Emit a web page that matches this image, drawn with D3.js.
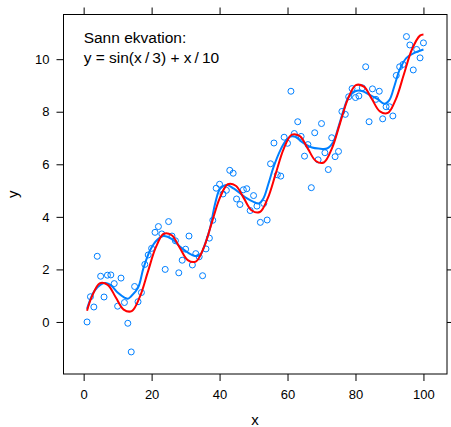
<!DOCTYPE html>
<html>
<head>
<meta charset="utf-8">
<script src="https://cdn.jsdelivr.net/npm/d3@7"></script>
<style>
  body { margin: 0; background: #fff; }
  svg { font-family: "Liberation Sans", Arial, Helvetica, sans-serif; }
</style>
</head>
<body>
<svg id="chart" width="451" height="427"></svg>
<script>
// observed points, x = 1..100
const xVals = d3.range(1, 101);
const yVals = [
  0.00, 0.96, 0.57, 2.50, 1.74, 0.95, 1.78, 1.79, 1.46, 0.60,
  1.67, 0.74, -0.05, -1.14, 1.35, 0.77, 1.12, 2.19, 2.55, 2.80,
  3.41, 3.63, 3.35, 2.00, 3.82, 3.27, 3.09, 1.87, 2.35, 2.77,
  3.27, 2.17, 2.60, 2.48, 1.76, 2.78, 3.19, 3.87, 5.09, 5.24,
  4.87, 5.01, 5.77, 5.66, 4.68, 4.47, 5.03, 5.07, 4.24, 4.81,
  4.41, 3.79, 4.51, 3.88, 6.02, 6.81, 5.60, 5.55, 7.03, 6.80,
  8.78, 7.17, 7.62, 7.06, 6.31, 6.75, 5.11, 7.20, 6.17, 7.55,
  6.44, 5.80, 7.01, 6.29, 6.49, 8.01, 7.90, 8.57, 8.88, 8.54,
  8.60, 8.91, 9.71, 7.62, 8.87, 8.47, 8.78, 7.73, 8.19, 8.19,
  7.84, 9.38, 9.71, 9.80, 10.86, 10.54, 9.59, 10.37, 10.05, 10.62
];

// smoothed (loess) line
const smoothX = [1, 3, 5, 6.5, 8, 10, 12, 13, 14, 16, 17.6, 19.6, 21.6, 23.5, 26, 28.4, 30.9, 32.9, 34.3, 35.8,
  37.3, 38.7, 40.2, 42.2, 44.1, 46.1, 48.1, 50, 51.5, 52.9, 54.4, 55.9, 57.9, 59.3, 60.8, 62.3, 63.7, 65.7, 67.2, 69.1,
  71.6, 73.5, 75, 76.5, 77.9, 79.9, 81.9, 84.3, 86.5, 88.5, 90, 91.5, 93, 95, 97.5, 100];
const smoothY = [0.50, 1.15, 1.42, 1.48, 1.40, 1.12, 0.93, 0.88, 0.98, 1.30, 2.05, 2.74, 3.12, 3.27, 3.15, 2.86, 2.62, 2.51, 2.55, 2.99,
  3.62, 4.51, 5.08, 5.21, 5.08, 4.89, 4.70, 4.57, 4.51, 4.70, 5.27, 5.90, 6.54, 6.86, 7.05, 7.05, 6.90, 6.73, 6.64, 6.60,
  6.60, 6.86, 7.43, 8.06, 8.54, 8.78, 8.79, 8.63, 8.48, 8.30, 8.45, 9.00, 9.60, 10.05, 10.25, 10.37];

// true curve y = sin(x/3) + x/10, sampled
const trueX = [1, 2.356, 4.712, 7.069, 9.425, 11.781, 14.137, 16.493, 18.850, 21.206, 23.562, 25.918, 28.274, 30.631,
  32.987, 35.343, 37.699, 40.055, 42.412, 44.768, 47.124, 49.480, 51.836, 54.192, 56.549, 58.905, 61.261, 63.617,
  65.973, 68.330, 70.686, 73.042, 75.398, 77.754, 80.111, 82.467, 84.823, 87.179, 89.535, 91.892, 94.248, 96.604, 98.960, 100];
const trueY = [0.43, 0.943, 1.471, 1.414, 0.942, 0.471, 0.414, 0.942, 1.885, 2.828, 3.356, 3.299, 2.827, 2.356,
  2.299, 2.827, 3.770, 4.713, 5.241, 5.184, 4.712, 4.241, 4.184, 4.712, 5.655, 6.597, 7.126, 7.069,
  6.597, 6.126, 6.069, 6.597, 7.540, 8.482, 9.011, 8.954, 8.482, 8.011, 7.954, 8.482, 9.425, 10.367, 10.896, 10.94];

const xTicks = [0, 20, 40, 60, 80, 100];
const yTicks = [0, 2, 4, 6, 8, 10];
const noteLines = ["Sann ekvation:", "y = sin(x\u2009/\u20093) + x\u2009/\u200910"];

const svg = d3.select("#chart");
const margin = { top: 14.5, right: 4, bottom: 53, left: 63.5 };
const width = 451 - margin.left - margin.right;
const height = 427 - margin.top - margin.bottom;
const g = svg.append("g").attr("transform", `translate(${margin.left},${margin.top})`);

// lattice-style 7% padding around the data range
function padded(ext) {
  const d = (ext[1] - ext[0]) * 0.07;
  return [ext[0] - d, ext[1] + d];
}
const x = d3.scaleLinear().domain(padded(d3.extent(xVals))).range([0, width]);
const y = d3.scaleLinear().domain(padded(d3.extent(yVals))).range([height, 0]);

const tickLen = 7;
const styleAxis = sel => {
  sel.select(".domain").remove();
  sel.selectAll("line").attr("stroke", "#000");
  sel.selectAll("text").attr("font-size", "13px").attr("fill", "#000");
};

g.append("g").attr("transform", `translate(0,${height})`)
  .call(d3.axisBottom(x).tickValues(xTicks).tickSize(tickLen).tickPadding(9))
  .call(styleAxis);
g.append("g")
  .call(d3.axisTop(x).tickValues(xTicks).tickSize(tickLen).tickFormat(""))
  .call(styleAxis);
g.append("g")
  .call(d3.axisLeft(y).tickValues(yTicks).tickSize(tickLen).tickPadding(7))
  .call(styleAxis);
g.append("g").attr("transform", `translate(${width},0)`)
  .call(d3.axisRight(y).tickValues(yTicks).tickSize(tickLen).tickFormat(""))
  .call(styleAxis);

g.append("rect")
  .attr("width", width).attr("height", height)
  .attr("fill", "none").attr("stroke", "#000").attr("stroke-width", 1);

const clip = svg.append("clipPath").attr("id", "clip");
clip.append("rect").attr("width", width).attr("height", height);
const plot = g.append("g").attr("clip-path", "url(#clip)");

plot.selectAll("circle")
  .data(xVals.map((v, i) => [v, yVals[i]]))
  .join("circle")
  .attr("cx", d => x(d[0]))
  .attr("cy", d => y(d[1]))
  .attr("r", 3)
  .attr("fill", "none")
  .attr("stroke", "#0080ff")
  .attr("stroke-width", 1);

const line = d3.line().x(d => x(d[0])).y(d => y(d[1])).curve(d3.curveCatmullRom.alpha(0.5));

plot.append("path")
  .datum(smoothX.map((v, i) => [v, smoothY[i]]))
  .attr("d", line)
  .attr("fill", "none")
  .attr("stroke", "#0080ff")
  .attr("stroke-width", 2);

plot.append("path")
  .datum(trueX.map((v, i) => [v, trueY[i]]))
  .attr("d", line)
  .attr("fill", "none")
  .attr("stroke", "#ff0000")
  .attr("stroke-width", 2);

g.selectAll(".note")
  .data(noteLines)
  .join("text")
  .attr("class", "note")
  .attr("x", x(0))
  .attr("y", (d, i) => 28 + i * 20.5)
  .attr("font-size", "15.5px")
  .text(d => d);

svg.append("text")
  .attr("x", 255)
  .attr("y", 425)
  .attr("text-anchor", "middle")
  .attr("font-size", "15px")
  .text("x");

svg.append("text")
  .attr("transform", `translate(18,${margin.top + height / 2})rotate(-90)`)
  .attr("text-anchor", "middle")
  .attr("font-size", "15px")
  .text("y");
</script>
</body>
</html>
